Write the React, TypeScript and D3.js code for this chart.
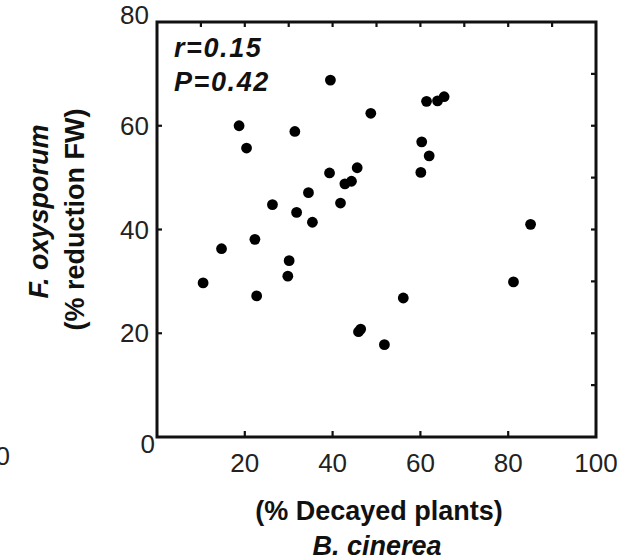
import React from "react";
import * as d3 from "d3";

const xValues = [10.5, 14.7, 18.7, 20.4, 22.3, 22.7, 26.3, 29.8, 30.1, 31.4, 31.8, 34.5, 35.4, 39.3, 39.5, 41.8, 42.8, 44.3, 45.6, 45.9, 46.4, 48.7, 51.8, 56.1, 60.1, 60.3, 61.4, 62.0, 63.9, 65.4, 81.2, 85.1];
const yValues = [29.7, 36.3, 60.0, 55.7, 38.1, 27.2, 44.8, 31.0, 34.0, 58.9, 43.3, 47.1, 41.4, 50.9, 68.8, 45.1, 48.8, 49.3, 51.9, 20.3, 20.8, 62.4, 17.8, 26.8, 51.0, 56.9, 64.7, 54.2, 64.8, 65.6, 29.9, 41.0];
const xTickLabels = [20, 40, 60, 80, 100];
const yTickLabels = [0, 20, 40, 60, 80];
const xMinorTicks = [10, 20, 30, 40, 50, 60, 70, 80, 90];
const yMinorTicks = [10, 20, 30, 40, 50, 60, 70];
const statLines = ["r=0.15", "P=0.42"];
const xLabelLines = ["(% Decayed plants)", "B. cinerea"];
const yLabelLines = ["F. oxysporum", "(% reduction FW)"];

const W = 626;
const H = 560;
const left = 157, right = 596, top = 22, bottom = 437;

export default function App() {
  const x = d3.scaleLinear().domain([0, 100]).range([left, right]);
  const y = d3.scaleLinear().domain([0, 80]).range([bottom, top]);
  const font = "'Liberation Sans', Arial, Helvetica, sans-serif";
  const yLabelDy = (v: number) => (v === 0 ? 16 : v === 80 ? 2 : 9);
  const yLabelX = (v: number) => (v === 0 ? 155 : 149);
  const cy = (top + bottom) / 2;
  return (
    <svg width={W} height={H} style={{ position: "absolute", left: 0, top: 0, background: "#fff" }} fontFamily={font}>
      <rect x={0} y={0} width={W} height={H} fill="#fff" />
      {xTickLabels.filter((v) => v < 100).map((v) => (
        <line key={"xb" + v} x1={x(v)} x2={x(v)} y1={bottom} y2={bottom - 6} stroke="#111" strokeWidth={2.2} />
      ))}
      {xMinorTicks.map((v) => (
        <line key={"xt" + v} x1={x(v)} x2={x(v)} y1={top} y2={top + 5} stroke="#111" strokeWidth={2.2} />
      ))}
      {yTickLabels.filter((v) => v > 0 && v < 80).map((v) => (
        <line key={"yl" + v} x1={left} x2={left + 5} y1={y(v)} y2={y(v)} stroke="#111" strokeWidth={2.2} />
      ))}
      {yMinorTicks.map((v) => (
        <line key={"yr" + v} x1={right} x2={right - 5} y1={y(v)} y2={y(v)} stroke="#111" strokeWidth={2.2} />
      ))}
      <rect x={left} y={top} width={right - left} height={bottom - top} fill="none" stroke="#111" strokeWidth={3} />
      {xValues.map((v, i) => (
        <circle key={"p" + i} cx={x(v)} cy={y(yValues[i])} r={5.4} fill="#000" />
      ))}
      {xTickLabels.map((v) => (
        <text key={"xl" + v} x={x(v)} y={472} textAnchor="middle" fontSize={26} fill="#222">{v}</text>
      ))}
      {yTickLabels.map((v) => (
        <text key={"ylab" + v} x={yLabelX(v)} y={y(v) + yLabelDy(v)} textAnchor="end" fontSize={26} fill="#222">{v}</text>
      ))}
      <text x={10} y={465} textAnchor="end" fontSize={26} fill="#222">0</text>
      {statLines.map((s, i) => (
        <text key={"s" + i} x={174} y={57 + i * 34} fontSize={27} fontWeight="bold" fontStyle="italic" letterSpacing={1.6} fill="#111">{s}</text>
      ))}
      <text x={379} y={520} textAnchor="middle" fontSize={27} fontWeight="bold" fill="#111">{xLabelLines[0]}</text>
      <text x={377} y={555} textAnchor="middle" fontSize={27} fontWeight="bold" fontStyle="italic" fill="#111">{xLabelLines[1]}</text>
      <text transform={`translate(48,${cy - 18}) rotate(-90)`} textAnchor="middle" fontSize={27} fontWeight="bold" fontStyle="italic" fill="#111">{yLabelLines[0]}</text>
      <text transform={`translate(84,${cy - 10}) rotate(-90)`} textAnchor="middle" fontSize={27} fontWeight="bold" fill="#111">{yLabelLines[1]}</text>
    </svg>
  );
}
